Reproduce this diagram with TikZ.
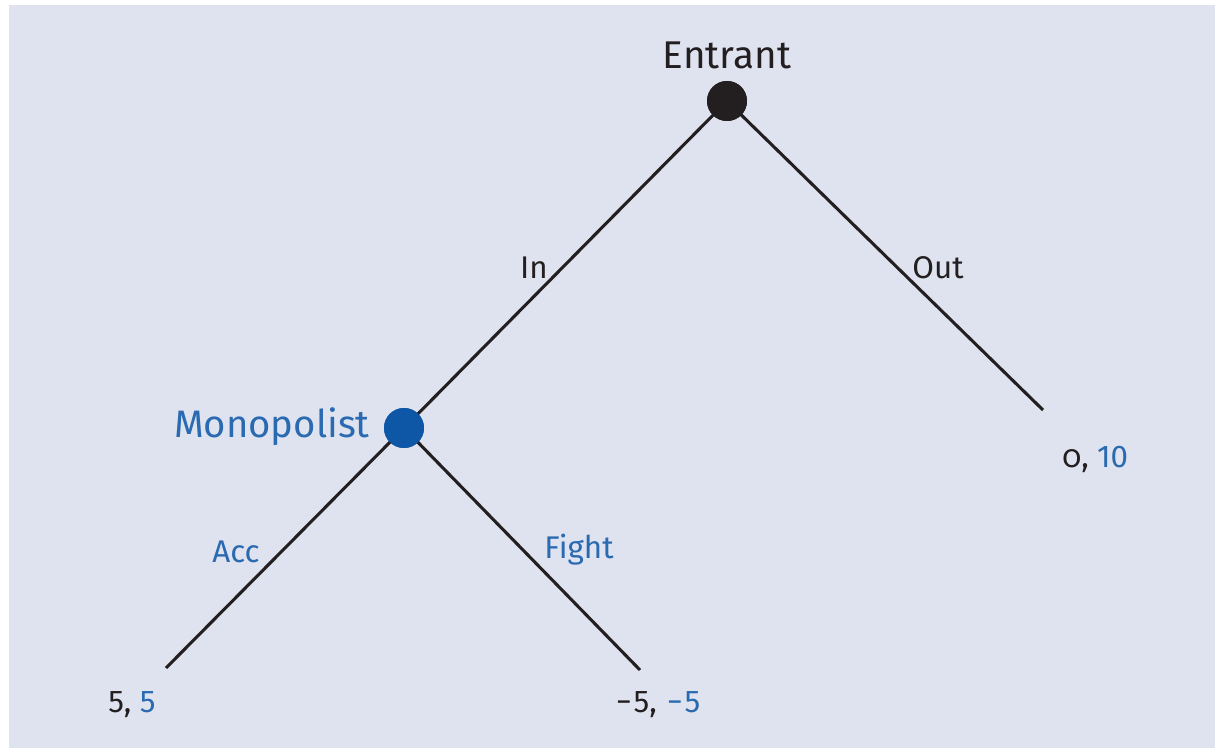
\documentclass[tikz,border=0pt]{standalone}
\usepackage{fontspec}
\setmainfont{Fira Sans}
\definecolor{bg}{HTML}{DFE3F0}
\definecolor{mblue}{HTML}{0D57A6}
\definecolor{tblue}{HTML}{2A6AB0}
\definecolor{tdark}{HTML}{231F20}
\newcommand{\mns}{\makebox[0.62em]{−}}
\begin{document}
\begin{tikzpicture}[x={(0.75pt,0)},y={(0,-0.75pt)},
  player/.style={circle,inner sep=0pt,minimum size=30pt},
  branch/.style={line width=2.3pt,draw=tdark},
  lbl/.style={font=\fontsize{23.5}{28}\selectfont,text=tdark,inner sep=0pt},
  blbl/.style={font=\fontsize{23.5}{28}\selectfont,text=tblue,inner sep=0pt},
  pay/.style={font=\fontsize{23.5}{28}\selectfont,text=tdark,inner sep=0pt}]
\useasboundingbox (0,0) rectangle (1215,748);
\fill[white] (0,0) rectangle (1215,748);
\fill[bg] (9,5) rectangle (1216,749);
\coordinate (o) at (1043,410);
\coordinate (a) at (166,668);
\coordinate (f) at (640,670);
\node[player,fill=tdark] (E) at (727,101) {};
\node[player,fill=mblue] (M) at (404,428) {};
\draw[branch] (E.center) -- (M.center);
\draw[branch] (E.center) -- (o);
\draw[branch] (M.center) -- (a);
\draw[branch] (M.center) -- (f);
\node[player,fill=tdark] at (E) {};
\node[player,fill=mblue] at (M) {};
\node[font=\fontsize{29}{34}\selectfont,text=tdark,inner sep=0pt] (Et) at (727,55) {Entrant};
\node[font=\fontsize{28.7}{34}\selectfont,text=tblue,inner sep=0pt,anchor=east] (Mt) at (370,427) {Monopolist};
\node[lbl] (in) at (534,268) {In};
\node[lbl] (out) at (938,268) {Out};
\node[blbl] (acc) at (236,552) {Acc};
\node[blbl] (fight) at (579,550) {Fight};
\node[pay,anchor=west] (po) at (1062,459) {{\addfontfeature{Numbers=OldStyle}0}, \textcolor{tblue}{10}};
\node[pay,anchor=west] (pa) at (108,705) {5, \textcolor{tblue}{5}};
\node[pay,anchor=west] (pf) at (614,705) {\mns5, \textcolor{tblue}{\mns5}};
\end{tikzpicture}
\end{document}
